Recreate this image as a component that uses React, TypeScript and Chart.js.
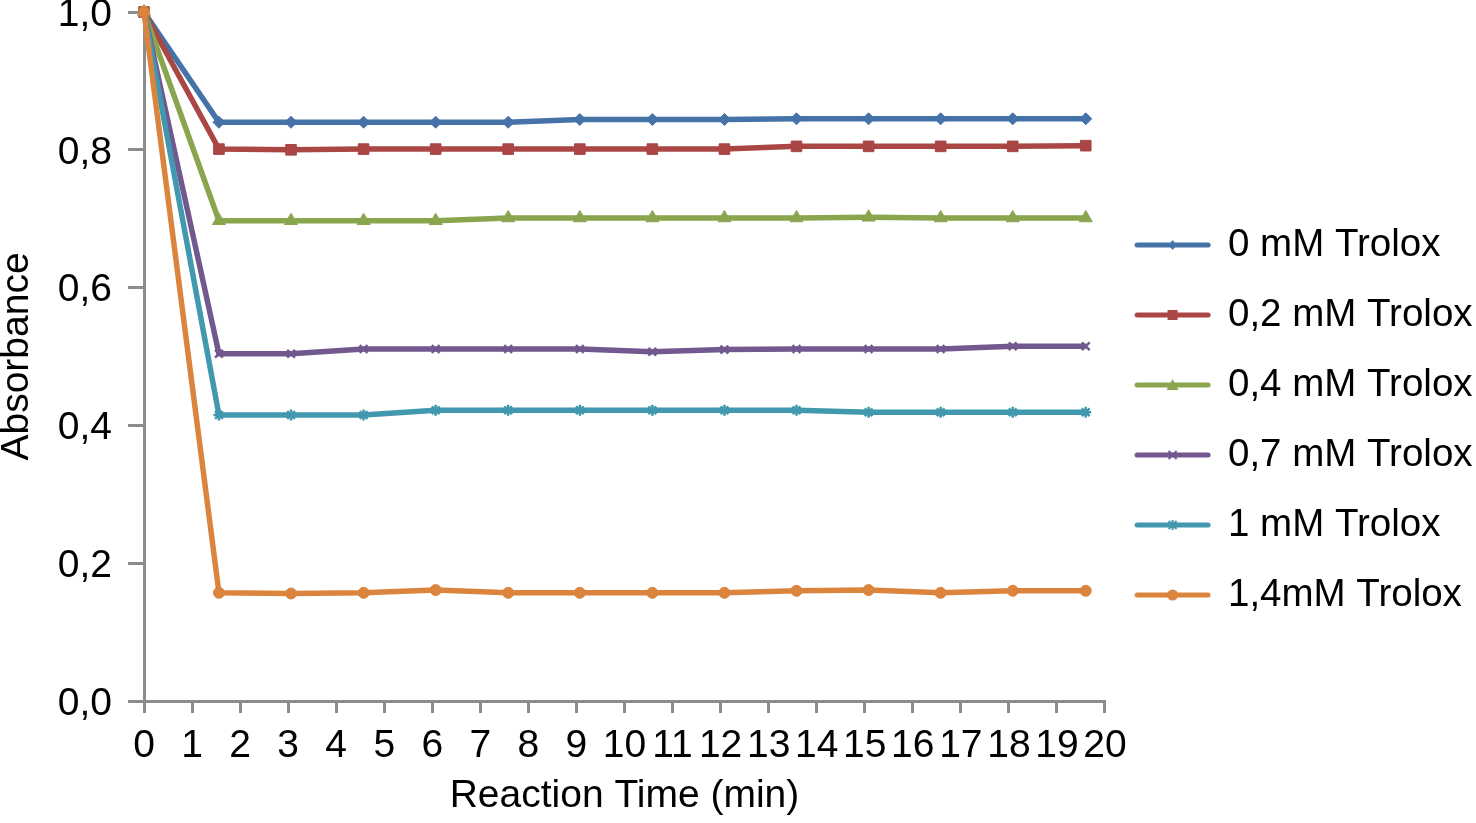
import React, { useEffect, useRef } from 'react';
import { Chart, registerables } from 'chart.js';

Chart.register(...registerables);

// ---- data ----
const times = [0, 1.56, 3.06, 4.57, 6.07, 7.58, 9.07, 10.58, 12.08, 13.58, 15.08, 16.58, 18.08, 19.6];
const seriesNames = ['0 mM Trolox', '0,2 mM Trolox', '0,4 mM Trolox', '0,7 mM Trolox', '1 mM Trolox', '1,4mM Trolox'];
const trolox0 = [1.0, 0.840, 0.840, 0.840, 0.840, 0.840, 0.844, 0.844, 0.844, 0.845, 0.845, 0.845, 0.845, 0.845];
const trolox02 = [1.0, 0.801, 0.800, 0.801, 0.801, 0.801, 0.801, 0.801, 0.801, 0.805, 0.805, 0.805, 0.805, 0.806];
const trolox04 = [1.0, 0.697, 0.697, 0.697, 0.697, 0.701, 0.701, 0.701, 0.701, 0.701, 0.702, 0.701, 0.701, 0.701];
const trolox07 = [1.0, 0.504, 0.504, 0.511, 0.511, 0.511, 0.511, 0.507, 0.510, 0.511, 0.511, 0.511, 0.515, 0.515];
const trolox1 = [1.0, 0.415, 0.415, 0.415, 0.422, 0.422, 0.422, 0.422, 0.422, 0.422, 0.419, 0.419, 0.419, 0.419];
const trolox14 = [1.0, 0.157, 0.156, 0.157, 0.161, 0.157, 0.157, 0.157, 0.157, 0.160, 0.161, 0.157, 0.160, 0.160];
const xTickLabels = ['0', '1', '2', '3', '4', '5', '6', '7', '8', '9', '10', '11', '12', '13', '14', '15', '16', '17', '18', '19', '20'];
const yTickLabels = ['0,0', '0,2', '0,4', '0,6', '0,8', '1,0'];

const allSeries = [trolox0, trolox02, trolox04, trolox07, trolox1, trolox14];

// ---- styles ----
const colors = ['#4572A7', '#AA4643', '#89A54E', '#71588F', '#4198AF', '#DB843D'];
const pointStyles = ['rectRot', 'rect', 'triangle', 'crossRot', 'star', 'circle'];
const pointRadii = [6, 7.5, 7.5, 5.5, 5.5, 5.5];
const FONT = '"Liberation Sans", Arial, Helvetica, sans-serif';
const AXIS = '#8c8c8c';

function makeLegendImage(color: string, style: string): HTMLCanvasElement {
  const c = document.createElement('canvas');
  c.width = 77;
  c.height = 20;
  const ctx = c.getContext('2d')!;
  ctx.strokeStyle = color;
  ctx.fillStyle = color;
  ctx.lineWidth = 5;
  ctx.lineCap = 'round';
  ctx.beginPath();
  ctx.moveTo(3, 10);
  ctx.lineTo(74, 10);
  ctx.stroke();
  const cx = 38.5;
  const cy = 10;
  ctx.lineWidth = 2;
  ctx.lineCap = 'butt';
  ctx.beginPath();
  switch (style) {
    case 'rectRot':
      ctx.moveTo(cx, cy - 5);
      ctx.lineTo(cx + 4, cy);
      ctx.lineTo(cx, cy + 5);
      ctx.lineTo(cx - 4, cy);
      ctx.closePath();
      ctx.fill();
      break;
    case 'rect':
      ctx.rect(cx - 5, cy - 5, 10, 10);
      ctx.fill();
      break;
    case 'triangle':
      ctx.moveTo(cx, cy - 6);
      ctx.lineTo(cx + 6, cy + 5);
      ctx.lineTo(cx - 6, cy + 5);
      ctx.closePath();
      ctx.fill();
      break;
    case 'crossRot':
      ctx.moveTo(cx - 4, cy - 4);
      ctx.lineTo(cx + 4, cy + 4);
      ctx.moveTo(cx + 4, cy - 4);
      ctx.lineTo(cx - 4, cy + 4);
      ctx.stroke();
      break;
    case 'star':
      ctx.moveTo(cx - 4, cy - 4);
      ctx.lineTo(cx + 4, cy + 4);
      ctx.moveTo(cx + 4, cy - 4);
      ctx.lineTo(cx - 4, cy + 4);
      ctx.moveTo(cx, cy - 5);
      ctx.lineTo(cx, cy + 5);
      ctx.stroke();
      break;
    default:
      ctx.arc(cx, cy, 5.5, 0, Math.PI * 2);
      ctx.fill();
  }
  return c;
}

export default function App() {
  const ref = useRef<HTMLCanvasElement | null>(null);

  useEffect(() => {
    if (!ref.current) return;
    const legendImages = colors.map((c, i) => makeLegendImage(c, pointStyles[i]));
    const datasets = allSeries.map((vals, i) => ({
      label: seriesNames[i],
      data: vals.map((v, k) => ({ x: times[k], y: v })),
      borderColor: colors[i],
      backgroundColor: colors[i],
      borderWidth: 5.5,
      tension: 0,
      pointStyle: pointStyles[i],
      pointRadius: pointRadii[i],
      pointBorderWidth: pointStyles[i] === 'crossRot' || pointStyles[i] === 'star' ? 2.5 : 1,
      pointBackgroundColor: colors[i],
      pointBorderColor: colors[i],
      clip: false as any,
      order: allSeries.length - 1 - i,
    }));

    const chart = new Chart(ref.current, {
      type: 'line',
      data: { datasets },
      options: {
        animation: false,
        responsive: false,
        layout: { padding: { top: 12, right: 2.7, bottom: -5, left: 0 } },
        plugins: {
          legend: {
            position: 'right',
            align: 'center',
            labels: {
              usePointStyle: true,
              pointStyleWidth: 72.25,
              padding: 31.5,
              color: '#000',
              font: { size: 38.5, family: FONT },
              sort: (a: any, b: any) => a.datasetIndex - b.datasetIndex,
              generateLabels: (ch: any) => {
                const items = (Chart.defaults.plugins.legend.labels as any).generateLabels(ch);
                return items.map((it: any) => ({ ...it, pointStyle: legendImages[it.datasetIndex] }));
              },
            },
          },
          tooltip: { enabled: false },
        },
        scales: {
          x: {
            type: 'linear',
            min: 0,
            max: 20,
            border: { color: AXIS, width: 3 },
            grid: { drawOnChartArea: false, color: AXIS, lineWidth: 3, tickLength: 12 },
            ticks: {
              stepSize: 1,
              autoSkip: false,
              maxRotation: 0,
              padding: 10,
              color: '#000',
              font: { size: 39, family: FONT },
              callback: (_v: any, i: number) => xTickLabels[i],
            },
            title: {
              display: true,
              text: 'Reaction Time (min)',
              color: '#000',
              font: { size: 39, family: FONT, lineHeight: 1.2 },
              padding: { top: 0, bottom: 8 },
            },
            afterFit: (s: any) => {
              s.height = 127;
            },
          },
          y: {
            type: 'linear',
            min: 0,
            max: 1,
            border: { color: AXIS, width: 3 },
            grid: { drawOnChartArea: false, color: AXIS, lineWidth: 3, tickLength: 16 },
            ticks: {
              stepSize: 0.2,
              padding: 16,
              labelOffset: 3,
              color: '#000',
              font: { size: 39, family: FONT },
              callback: (_v: any, i: number) => yTickLabels[i],
            },
            title: {
              display: true,
              text: 'Absorbance',
              color: '#000',
              font: { size: 39, family: FONT, lineHeight: 1 },
              padding: { top: -2, bottom: 0 },
            },
            afterFit: (s: any) => {
              s.width = 144;
              s.paddingTop = 0;
              s.paddingBottom = 0;
            },
          },
        },
      } as any,
    });
    return () => chart.destroy();
  }, []);

  return (
    <div style={{ position: 'fixed', left: 0, top: 0, width: 1476, height: 823, background: '#fff' }}>
      <canvas ref={ref} width={1476} height={823} style={{ display: 'block', width: 1476, height: 823 }} />
    </div>
  );
}
